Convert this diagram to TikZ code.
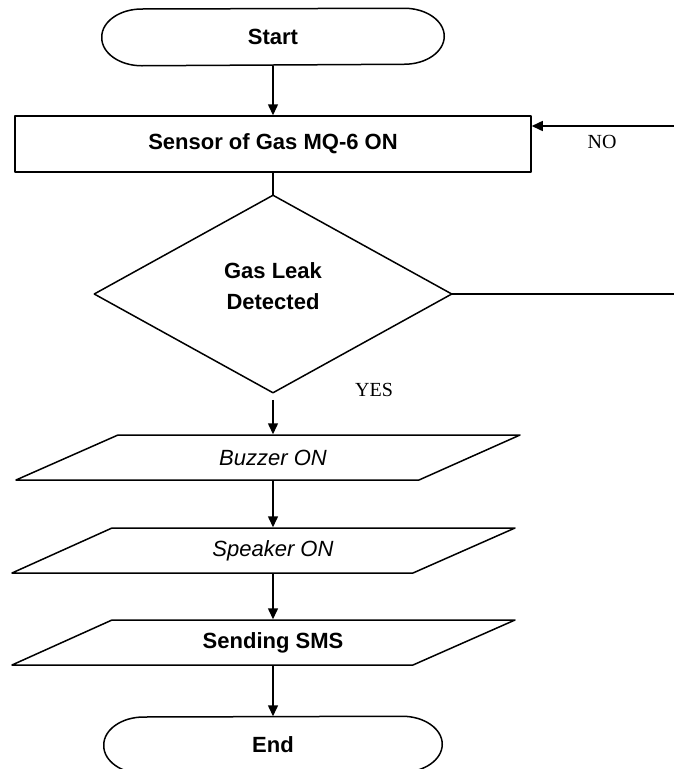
\documentclass[tikz,border=0pt]{standalone}
\usepackage{fontspec}
\setmainfont{Liberation Sans}
\newfontfamily\lblfont{Liberation Serif}
\usetikzlibrary{arrows.meta}
\begin{document}
\begin{tikzpicture}[x=1pt,y=-1pt, line width=1.5pt,
  txt/.style={font=\fontsize{22}{31}\selectfont\bfseries, inner sep=0pt},
  itxt/.style={font=\fontsize{22}{31}\selectfont\itshape, inner sep=0pt},
  lbl/.style={font=\fontsize{20}{24}\selectfont\lblfont, inner sep=0pt},
  arr/.style={-{Triangle[length=11pt,width=10pt]}},
  frame/.style={draw=black, line width=1.5pt, line join=round}]
\path[use as bounding box] (0,0) rectangle (674,769);
\clip (0,0) rectangle (674,769);
% Start
\node[txt, minimum width=341, minimum height=56] (start) at (273,37) {Start};
\draw[frame] (start.west)
  arc[start angle=180,end angle=90,x radius=40pt,y radius=28pt]
  -- ([xshift=-40pt]start.north east)
  arc[start angle=90,end angle=-90,x radius=40pt,y radius=28pt]
  -- ([xshift=40pt]start.south west)
  arc[start angle=270,end angle=180,x radius=40pt,y radius=28pt] -- cycle;
% Sensor
\node[txt, frame, minimum width=516, minimum height=56] (sensor) at (273,144) {Sensor of Gas MQ-6 ON};
% Decision
\node[minimum width=356, minimum height=196, inner sep=0pt] (dec) at (273,294) {};
\draw[frame] (dec.north) -- (dec.east) -- (dec.south) -- (dec.west) -- cycle;
\node[txt, align=center] (dectext) at (273,286) {Gas Leak\\Detected};
% Parallelograms
\node[itxt, minimum height=45] (buz) at (273,457.5) {Buzzer ON};
\draw[frame] (118,435) -- (520,435) -- (419,480) -- (16,480) -- cycle;
\node[itxt, minimum height=45] (spk) at (273,550.5) {Speaker ON};
\draw[frame] (112,528) -- (515,528) -- (413,573) -- (12,573) -- cycle;
\node[txt, minimum height=45] (sms) at (273,642.5) {Sending SMS};
\draw[frame] (112,620) -- (515,620) -- (413,665) -- (12,665) -- cycle;
% End
\node[txt, minimum width=337, minimum height=56] (end) at (273,745) {End};
\draw[frame] (end.west)
  arc[start angle=180,end angle=90,x radius=40pt,y radius=28pt]
  -- ([xshift=-40pt]end.north east)
  arc[start angle=90,end angle=-90,x radius=40pt,y radius=28pt]
  -- ([xshift=40pt]end.south west)
  arc[start angle=270,end angle=180,x radius=40pt,y radius=28pt] -- cycle;
% Connectors
\draw[arr] (start.south) -- (sensor.north);
\draw (sensor.south) -- (dec.north);
\draw[arr, shorten <=7pt] (dec.south) -- (buz.north);
\draw[arr] (buz.south) -- (spk.north);
\draw[arr] (spk.south) -- (sms.north);
\draw[arr] (sms.south) -- (end.north);
\coordinate (rt) at (700,294);
\coordinate (rtop) at (700,126);
\draw[arr] (dec.east) -- (rt) -- (rtop) -- (sensor.east |- rtop);
% Labels
\node[lbl] (no) at (602,142) {NO};
\node[lbl] (yes) at (374,390) {YES};
\end{tikzpicture}
\end{document}
